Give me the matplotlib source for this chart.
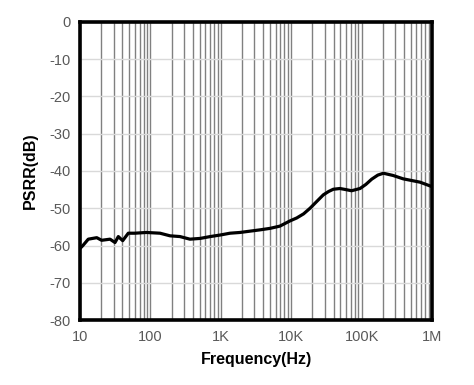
import matplotlib
matplotlib.use("Agg")
import matplotlib.pyplot as plt
from matplotlib.ticker import FixedLocator, LogLocator, NullFormatter
plt.rcParams['font.family'] = ['Liberation Sans', 'DejaVu Sans']
plt.rcParams['axes.unicode_minus'] = False

# PSRR curve
freq = [10, 11, 13.1, 17.3, 20.3, 26.7, 31.4, 35, 40.4, 48.5, 60, 88, 137, 190, 263, 364,
        508, 707, 970, 1350, 1870, 3600, 5000, 6900, 9600, 12000, 15000, 18500, 23000, 28600,
        34000, 39600, 49300, 60000, 72000, 95000, 115000, 139000, 170000, 204000, 280000,
        389000, 676000, 1000000]
psrr = [-60.8, -60.0, -58.3, -57.9, -58.6, -58.3, -59.2, -57.6, -58.7, -56.7, -56.7, -56.5,
        -56.7, -57.4, -57.6, -58.3, -58.1, -57.6, -57.2, -56.7, -56.5, -55.8, -55.4, -54.8,
        -53.4, -52.6, -51.5, -50.0, -48.2, -46.4, -45.5, -44.9, -44.7, -45.0, -45.3, -44.7,
        -43.6, -42.2, -41.1, -40.6, -41.2, -42.1, -43.0, -44.2]

xticks = [10, 100, 1e3, 1e4, 1e5, 1e6]
xlabels = ["10", "100", "1K", "10K", "100K", "1M"]
yticks = list(range(-80, 1, 10))

fig = plt.figure(figsize=(4.74, 3.85), dpi=100)
ax = fig.add_axes([0.1688, 0.1688, 0.7426, 0.7741])
ax.set_xscale("log")
ax.set_xlim(10, 1e6)
ax.set_ylim(-80, 0)

ax.xaxis.set_major_locator(FixedLocator(xticks))
ax.set_xticklabels(xlabels)
ax.xaxis.set_minor_locator(LogLocator(base=10, subs=range(2, 10), numticks=50))
ax.xaxis.set_minor_formatter(NullFormatter())
ax.set_yticks(yticks)

ax.grid(True, which="both", axis="x", color="#808080", lw=1.0)
ax.grid(True, which="major", axis="y", color="#d9d9d9", lw=1.0)
ax.set_axisbelow(True)

ax.plot(freq, psrr, color="black", lw=2.3, solid_joinstyle="round")

for s in ax.spines.values():
    s.set_linewidth(2.6)
    s.set_color("black")
ax.tick_params(which="both", length=0, labelsize=10.5, labelcolor="#595959", pad=7)

ax.set_xlabel("Frequency(Hz)", fontsize=11.5, fontweight="bold", labelpad=6)
ax.set_ylabel("PSRR(dB)", fontsize=11.5, fontweight="bold", labelpad=8)

fig.savefig("out.png", dpi=100)
